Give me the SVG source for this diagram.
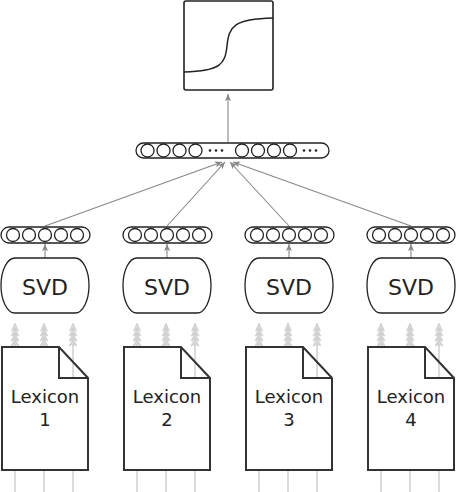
<svg xmlns="http://www.w3.org/2000/svg" width="456" height="492" viewBox="0 0 456 492">
<style>
.bar{fill:#fff;stroke:#222;stroke-width:1.3}
.cir{fill:#fff;stroke:#222;stroke-width:1.3}
.dot{fill:#222}
.svd{fill:#fff;stroke:#222;stroke-width:1.3}
.doc{fill:#fff;stroke:none}
.docs{fill:none;stroke:#333;stroke-width:2;stroke-linejoin:miter}
.lbl{font-family:"DejaVu Sans",sans-serif;fill:#222;text-anchor:middle}
.con{stroke:#888;stroke-width:1.1;fill:none}
.inp{stroke:#c4c4c4;stroke-width:1.2;fill:none}
.head{fill:#d6d6d6;stroke:#c8c8c8;stroke-width:0.6}
</style>
<defs>
<marker id="ah" markerUnits="userSpaceOnUse" markerWidth="10" markerHeight="8" refX="7" refY="3" orient="auto">
<path d="M0,0 L7,3 L0,6 L1.5,3 Z" fill="#888"/>
</marker>
<g id="stack">
<path class="head" d="M0,0 L3.5,8 L0,6.5 L-3.5,8 Z"/>
<path class="head" d="M0,5 L3.8,13 L0,11.5 L-3.8,13 Z"/>
<path class="head" d="M0,10 L4,18 L0,16.5 L-4,18 Z"/>
<path class="head" d="M0,15 L4,23 L0,21.5 L-4,23 Z"/>
</g>
<path id="svdshape" d="M-30,0 H30 A14,27.5 0 0 1 30,55 H-30 A14,27.5 0 0 1 -30,0 Z"/>
</defs>

<g id="connectors">
<line class="con" x1="228" y1="142" x2="228" y2="94" marker-end="url(#ah)"/>
<line class="con" x1="45" y1="226" x2="222" y2="162" marker-end="url(#ah)"/>
<line class="con" x1="167" y1="226" x2="225" y2="162" marker-end="url(#ah)"/>
<line class="con" x1="289" y1="226" x2="230" y2="162" marker-end="url(#ah)"/>
<line class="con" x1="411" y1="226" x2="233" y2="162" marker-end="url(#ah)"/>
<line class="con" x1="45" y1="258" x2="45" y2="244" marker-end="url(#ah)"/>
<line class="con" x1="167" y1="258" x2="167" y2="244" marker-end="url(#ah)"/>
<line class="con" x1="289" y1="258" x2="289" y2="244" marker-end="url(#ah)"/>
<line class="con" x1="411" y1="258" x2="411" y2="244" marker-end="url(#ah)"/>
<g id="inputs">
<path class="inp" d="M15,492V324 M44,492V324 M73,492V324 M137,492V324 M166,492V324 M195,492V324 M259,492V324 M288,492V324 M317,492V324 M381,492V324 M410,492V324 M439,492V324"/>
<use href="#stack" x="15" y="323"/><use href="#stack" x="44" y="323"/><use href="#stack" x="73" y="323"/>
<use href="#stack" x="137" y="323"/><use href="#stack" x="166" y="323"/><use href="#stack" x="195" y="323"/>
<use href="#stack" x="259" y="323"/><use href="#stack" x="288" y="323"/><use href="#stack" x="317" y="323"/>
<use href="#stack" x="381" y="323"/><use href="#stack" x="410" y="323"/><use href="#stack" x="439" y="323"/>
</g>
</g>

<g id="output">
<rect x="184" y="1" width="89" height="89" rx="2" fill="#fff" stroke="#222" stroke-width="1.6"/>
<path d="M184,72 C221,71 225,64 227,46 C229,26 234,19 273,18" fill="none" stroke="#222" stroke-width="1.5"/>
</g>

<g id="hidden">
<rect class="bar" x="136" y="143" width="193" height="15" rx="7.5"/>
<circle class="cir" cx="147.5" cy="150.5" r="6.5"/>
<circle class="cir" cx="163.5" cy="150.5" r="6.5"/>
<circle class="cir" cx="179.5" cy="150.5" r="6.5"/>
<circle class="cir" cx="195.5" cy="150.5" r="6.5"/>
<circle class="dot" cx="210" cy="150.5" r="1.3"/>
<circle class="dot" cx="216" cy="150.5" r="1.3"/>
<circle class="dot" cx="222" cy="150.5" r="1.3"/>
<circle class="cir" cx="242" cy="150.5" r="6.5"/>
<circle class="cir" cx="258" cy="150.5" r="6.5"/>
<circle class="cir" cx="274" cy="150.5" r="6.5"/>
<circle class="cir" cx="290" cy="150.5" r="6.5"/>
<circle class="dot" cx="304" cy="150.5" r="1.3"/>
<circle class="dot" cx="310" cy="150.5" r="1.3"/>
<circle class="dot" cx="316" cy="150.5" r="1.3"/>
</g>

<g id="vec1">
<rect class="bar" x="1" y="227" width="89" height="16" rx="8"/>
<circle class="cir" cx="13" cy="235" r="6.5"/><circle class="cir" cx="29" cy="235" r="6.5"/><circle class="cir" cx="45" cy="235" r="6.5"/><circle class="cir" cx="61" cy="235" r="6.5"/><circle class="cir" cx="77" cy="235" r="6.5"/>
</g>
<g id="vec2">
<rect class="bar" x="123" y="227" width="89" height="16" rx="8"/>
<circle class="cir" cx="135" cy="235" r="6.5"/><circle class="cir" cx="151" cy="235" r="6.5"/><circle class="cir" cx="167" cy="235" r="6.5"/><circle class="cir" cx="183" cy="235" r="6.5"/><circle class="cir" cx="199" cy="235" r="6.5"/>
</g>
<g id="vec3">
<rect class="bar" x="245" y="227" width="89" height="16" rx="8"/>
<circle class="cir" cx="257" cy="235" r="6.5"/><circle class="cir" cx="273" cy="235" r="6.5"/><circle class="cir" cx="289" cy="235" r="6.5"/><circle class="cir" cx="305" cy="235" r="6.5"/><circle class="cir" cx="321" cy="235" r="6.5"/>
</g>
<g id="vec4">
<rect class="bar" x="367" y="227" width="88" height="16" rx="8"/>
<circle class="cir" cx="379" cy="235" r="6.5"/><circle class="cir" cx="395" cy="235" r="6.5"/><circle class="cir" cx="411" cy="235" r="6.5"/><circle class="cir" cx="427" cy="235" r="6.5"/><circle class="cir" cx="443" cy="235" r="6.5"/>
</g>

<g id="svd1">
<use href="#svdshape" class="svd" x="45" y="258"/>
<text class="lbl" x="45" y="295" font-size="22">SVD</text>
</g>
<g id="svd2">
<use href="#svdshape" class="svd" x="167" y="258"/>
<text class="lbl" x="167" y="295" font-size="22">SVD</text>
</g>
<g id="svd3">
<use href="#svdshape" class="svd" x="289" y="258"/>
<text class="lbl" x="289" y="295" font-size="22">SVD</text>
</g>
<g id="svd4">
<use href="#svdshape" class="svd" x="411" y="258"/>
<text class="lbl" x="411" y="295" font-size="22">SVD</text>
</g>

<g id="lex1">
<path class="doc" d="M2,347 L59,347 L59,378 L88,378 L88,470 L2,470 Z"/>
<path class="docs" d="M2,347 L59,347 L88,378 L88,470 L2,470 Z M59,347 L59,378 L88,378"/>
<text class="lbl" x="45" y="403" font-size="18">Lexicon</text>
<text class="lbl" x="45" y="426" font-size="18">1</text>
</g>
<g id="lex2">
<path class="doc" d="M124,347 L181,347 L181,378 L210,378 L210,470 L124,470 Z"/>
<path class="docs" d="M124,347 L181,347 L210,378 L210,470 L124,470 Z M181,347 L181,378 L210,378"/>
<text class="lbl" x="167" y="403" font-size="18">Lexicon</text>
<text class="lbl" x="167" y="426" font-size="18">2</text>
</g>
<g id="lex3">
<path class="doc" d="M246,347 L303,347 L303,378 L332,378 L332,470 L246,470 Z"/>
<path class="docs" d="M246,347 L303,347 L332,378 L332,470 L246,470 Z M303,347 L303,378 L332,378"/>
<text class="lbl" x="289" y="403" font-size="18">Lexicon</text>
<text class="lbl" x="289" y="426" font-size="18">3</text>
</g>
<g id="lex4">
<path class="doc" d="M368,347 L425,347 L425,378 L454,378 L454,470 L368,470 Z"/>
<path class="docs" d="M368,347 L425,347 L454,378 L454,470 L368,470 Z M425,347 L425,378 L454,378"/>
<text class="lbl" x="411" y="403" font-size="18">Lexicon</text>
<text class="lbl" x="411" y="426" font-size="18">4</text>
</g>
</svg>
